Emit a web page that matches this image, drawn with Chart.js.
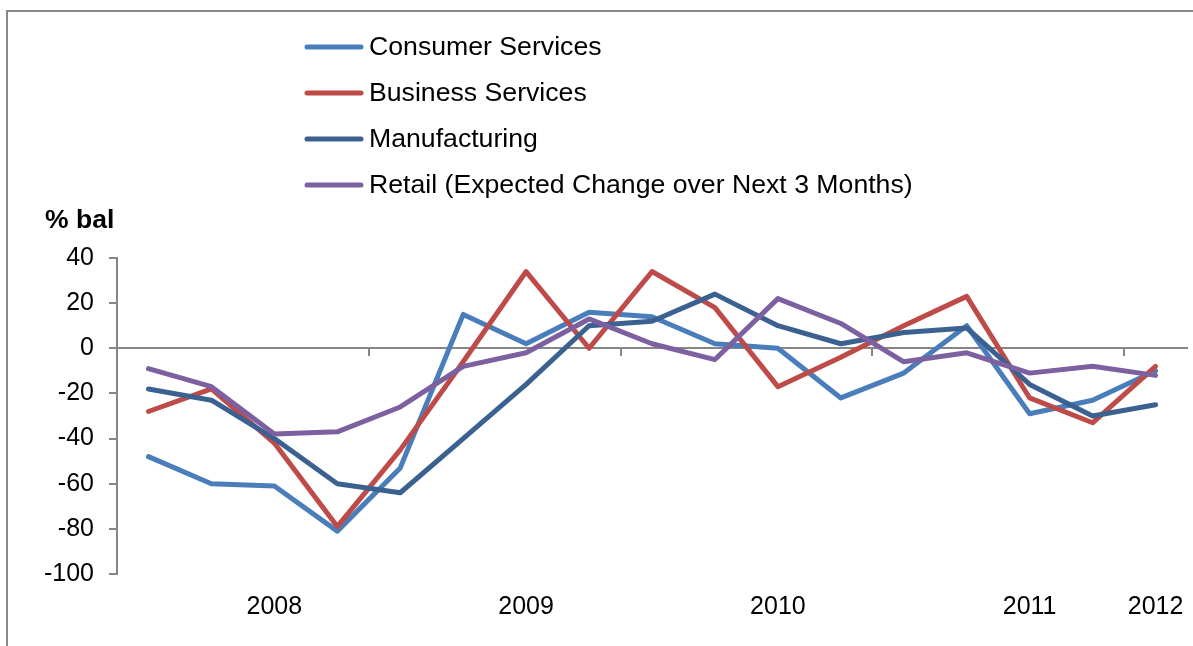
<!DOCTYPE html>
<html>
<head>
<meta charset="utf-8">
<script src="https://cdn.jsdelivr.net/npm/chart.js@4"></script>
<style>
  html, body { margin: 0; padding: 0; background: #fff; }
  #wrap { width: 1193px; height: 646px; position: relative; }
</style>
</head>
<body>
<div id="wrap"><canvas id="myChart"></canvas></div>
<script>
// quarterly survey balances, 17 points
const quarters = ["Q3 07", "Q4 07", "Q1 08", "Q2 08", "Q3 08", "Q4 08", "Q1 09", "Q2 09", "Q3 09",
    "Q4 09", "Q1 10", "Q2 10", "Q3 10", "Q4 10", "Q1 11", "Q2 11", "Q3 11"];
const tickLabels = ["", "", "2008", "", "", "", "2009", "", "", "", "2010", "", "", "", "2011", "", "2012"];

const consumerServices = [-48, -60, -61, -81, -53, 15, 2, 16, 14, 2, 0, -22, -11, 10, -29, -23, -10];
const businessServices = [-28, -18, -42, -79, -45, -6, 34, 0, 34, 18, -17, -4, 10, 23, -22, -33, -8];
const manufacturing = [-18, -23, -40, -60, -64, -40, -16, 10, 12, 24, 10, 2, 7, 9, -16, -30, -25];
const retail = [-9, -17, -38, -37, -26, -8, -2, 13, 2, -5, 22, 11, -6, -2, -11, -8, -12];

const yTicks = { min: -100, max: 40, step: 20 };
const yTitle = "% bal";

const FONT = "'Liberation Sans', Arial, sans-serif";
const axisGrey = "#868686";

// text in the original is a little wider than plain Arial
function wideText(ctx, text, x, y, stretch) {
    ctx.save();
    ctx.translate(x, y);
    ctx.scale(stretch, 1);
    ctx.fillText(text, 0, 0);
    ctx.restore();
}

// legend drawn as a vertical list above the plot, like the original
const listLegend = {
    id: "listLegend",
    afterDraw(chart) {
        const ctx = chart.ctx;
        ctx.save();
        ctx.font = "26px " + FONT;
        ctx.textBaseline = "middle";
        ctx.fillStyle = "#000";
        ctx.lineCap = "round";
        chart.data.datasets.forEach((ds, i) => {
            const y = 47 + i * 46;
            ctx.strokeStyle = ds.borderColor;
            ctx.lineWidth = 5;
            ctx.beginPath();
            ctx.moveTo(307, y);
            ctx.lineTo(361, y);
            ctx.stroke();
            wideText(ctx, ds.label, 369, y + 1, 1.025);
        });
        // axis title
        ctx.font = "bold 26px " + FONT;
        wideText(ctx, yTitle, 45, 221, 1.02);
        ctx.restore();
    },
    beforeDraw(chart) {
        // outer frame (only the top and left edges show)
        const ctx = chart.ctx;
        ctx.save();
        ctx.strokeStyle = "#898989";
        ctx.lineWidth = 2;
        ctx.beginPath();
        ctx.moveTo(7, chart.height);
        ctx.lineTo(7, 11);
        ctx.lineTo(chart.width, 11);
        ctx.stroke();
        ctx.restore();
    }
};

function series(label, values, color, order) {
    return {
        label: label,
        data: values,
        borderColor: color,
        backgroundColor: color,
        borderWidth: 5,
        pointRadius: 0,
        tension: 0,
        borderJoinStyle: "round",
        borderCapStyle: "round",
        order: order,
    };
}

const ctx = document.getElementById("myChart").getContext("2d");
const myChart = new Chart(ctx, {
    type: "line",
    data: {
        labels: quarters,
        datasets: [
            series("Consumer Services", consumerServices, "#4A7EBB", 3),
            series("Business Services", businessServices, "#BE4B48", 2),
            series("Manufacturing", manufacturing, "#3A6190", 1),
            series("Retail (Expected Change over Next 3 Months)", retail, "#7D60A0", 0),
        ],
    },
    options: {
        responsive: true,
        maintainAspectRatio: false,
        animation: false,
        layout: { padding: { top: 258, right: 6, left: 0, bottom: 0 } },
        plugins: {
            legend: { display: false },
            tooltip: { enabled: false },
        },
        scales: {
            x: {
                type: "category",
                offset: true,
                border: { display: false },
                grid: { display: false, drawTicks: false },
                ticks: {
                    autoSkip: false,
                    maxRotation: 0,
                    padding: 18,
                    color: "#000",
                    font: { family: FONT, size: 25 },
                    callback: (v, i) => tickLabels[i],
                },
                afterFit: (s) => { s.height = 72; s.paddingLeft = 0; s.paddingRight = 0; },
            },
            xZero: {
                axis: "x",
                type: "category",
                position: { y: 0 },
                offset: true,
                border: { display: true, color: axisGrey, width: 2 },
                grid: {
                    offset: true,
                    drawOnChartArea: false,
                    tickLength: 7,
                    lineWidth: 2,
                    color: (c) => (c.index > 0 && c.index % 4 === 0 ? axisGrey : "rgba(0,0,0,0)"),
                },
                ticks: { display: false, autoSkip: false },
                afterFit: (s) => { s.paddingLeft = 0; s.paddingRight = 0; },
            },
            y: {
                min: yTicks.min,
                max: yTicks.max,
                border: { display: true, color: axisGrey, width: 2 },
                grid: { drawOnChartArea: false, tickLength: 8, color: axisGrey, lineWidth: 2 },
                ticks: {
                    stepSize: yTicks.step,
                    padding: 15,
                    color: "#000",
                    font: { family: FONT, size: 25 },
                },
                afterFit: (s) => { s.width = 117; },
            },
        },
    },
    plugins: [listLegend],
});
</script>
</body>
</html>
